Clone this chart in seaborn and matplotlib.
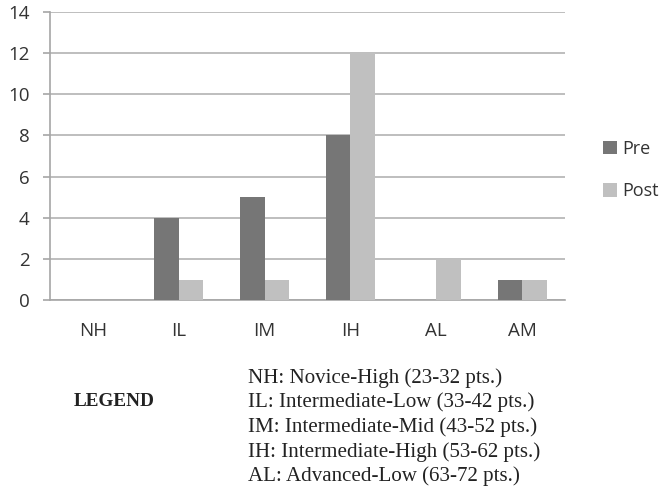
import numpy as np
import pandas as pd
import matplotlib
matplotlib.use("Agg")
import matplotlib.pyplot as plt
import seaborn as sns

# Proficiency levels and counts per test
levels = ["NH", "IL", "IM", "IH", "AL", "AM"]
pre_counts = [0, 4, 5, 8, 0, 1]
post_counts = [0, 1, 1, 12, 2, 1]
series_names = ["Pre", "Post"]
y_ticks = [0, 2, 4, 6, 8, 10, 12, 14]
legend_lines = [
    "NH: Novice-High (23-32 pts.)",
    "IL: Intermediate-Low (33-42 pts.)",
    "IM: Intermediate-Mid (43-52 pts.)",
    "IH: Intermediate-High (53-62 pts.)",
    "AL: Advanced-Low (63-72 pts.)",
]

df = pd.DataFrame({
    "level": levels * 2,
    "count": pre_counts + post_counts,
    "test": [series_names[0]] * len(levels) + [series_names[1]] * len(levels),
})

sns.set_theme(style="white")
plt.rcParams["font.family"] = ["Open Sans", "DejaVu Sans"]

fig = plt.figure(figsize=(6.6, 4.92), dpi=100)
ax = fig.add_axes([0.076, 0.390, 0.780, 0.586])

palette = {"Pre": "#767676", "Post": "#c0c0c0"}
sns.barplot(ax=ax, data=df, x="level", y="count", hue="test",
            order=levels, hue_order=series_names, palette=palette,
            width=0.57, saturation=1, linewidth=0, zorder=3)

# axes styling
ax.set_ylim(0, 14)
ax.set_xlim(-0.5, len(levels) - 0.5)
ax.set_yticks(y_ticks)
ax.yaxis.grid(True, color="#b3b3b3", linewidth=1.2, zorder=0)
ax.set_axisbelow(True)
for side in ["top", "right"]:
    ax.spines[side].set_visible(False)
for side in ["left", "bottom"]:
    ax.spines[side].set_color("#a6a6a6")
    ax.spines[side].set_linewidth(1.2)
ax.set_xlabel("")
ax.set_ylabel("")

# labels in the middle, tick marks on the category boundaries
ax.set_xticks(range(len(levels)))
ax.set_xticklabels(levels, fontsize=13.5, color="#333333")
ax.tick_params(axis="x", which="major", length=0, pad=16)
ax.set_xticks(np.arange(-0.5, len(levels)), minor=True)
ax.tick_params(axis="x", which="minor", length=4, width=1.2, color="#a6a6a6", direction="out")
ax.set_yticklabels([str(v) for v in y_ticks], fontsize=13.5, color="#333333")
ax.tick_params(axis="y", length=5, width=1.2, color="#a6a6a6", pad=10, left=True)

ax.legend(loc="center left", bbox_to_anchor=(603 / 660, 1 - 170 / 492),
          bbox_transform=fig.transFigure, frameon=False, borderpad=0,
          borderaxespad=0, fontsize=13, handlelength=0.75, handleheight=0.75,
          handletextpad=0.3, labelspacing=1.35, labelcolor="#333333")

# text legend under the chart
serif = ["Liberation Serif", "DejaVu Serif"]
fig.text(74 / 660, 1 - 406 / 492, "LEGEND", family=serif, fontweight="bold",
         fontsize=13.8, va="baseline", ha="left", color="#222222")
for i, line in enumerate(legend_lines):
    fig.text(248 / 660, 1 - (383 + 24.5 * i) / 492, line, family=serif,
             fontsize=15.1, va="baseline", ha="left", color="#222222")

fig.savefig("out.png", dpi=100, facecolor="white")
